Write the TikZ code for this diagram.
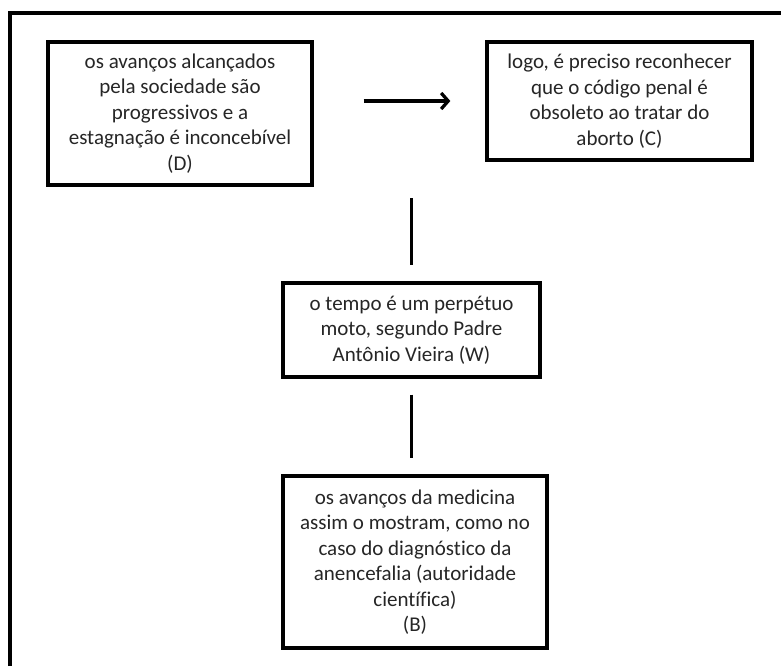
\documentclass[tikz,border=0pt]{standalone}
\usepackage{fontspec}
\setmainfont{Carlito}[Ligatures=NoCommon]
\usetikzlibrary{arrows.meta}
\begin{document}
\begin{tikzpicture}[x=1pt,y=-1pt,
  box/.style={draw=black,line width=3.3pt,fill=white,align=center,inner sep=0pt,
    font=\fontsize{21}{25.5}\selectfont,text=black!85},
  conn/.style={line width=3.3pt,draw=black}]
\useasboundingbox (0,0) rectangle (781,666);
\fill[white] (0,0) rectangle (781,666);
% outer frame (cropped)
\coordinate (fl) at (10,666);
\coordinate (ftl) at (10,13);
\coordinate (fr) at (781,13);
\draw[line width=3.3pt] (fl) -- (ftl) -- (fr);
\node[box,minimum width=264pt,minimum height=143pt] (D) at (180,113.5)
  {os avanços alcançados\\pela sociedade são\\progressivos e a\\estagnação é inconcebível\\(D)};
\node[box,minimum width=265pt,minimum height=118pt] (C) at (619.5,101)
  {logo, é preciso reconhecer\\que o código penal é\\obsoleto ao tratar do\\aborto (C)};
\node[box,minimum width=257pt,minimum height=94pt] (W) at (411.5,330)
  {o tempo é um perpétuo\\moto, segundo Padre\\Antônio Vieira (W)};
\node[box,minimum width=264pt,minimum height=172pt] (B) at (415,562)
  {os avanços da medicina\\assim o mostram, como no\\caso do diagnóstico da\\anencefalia (autoridade\\científica)\\(B)};
\draw[conn,-{Straight Barb[length=7pt,width=16pt]},shorten <=50pt,shorten >=35pt]
  (D.east |- 0,101) -- (C.west);
\coordinate (top) at (411.5,198);
\draw[conn,shorten >=16pt] (top) -- (W.north);
\draw[conn,shorten <=16pt,shorten >=16pt] (W.south) -- (W.south |- B.north);
\end{tikzpicture}
\end{document}
